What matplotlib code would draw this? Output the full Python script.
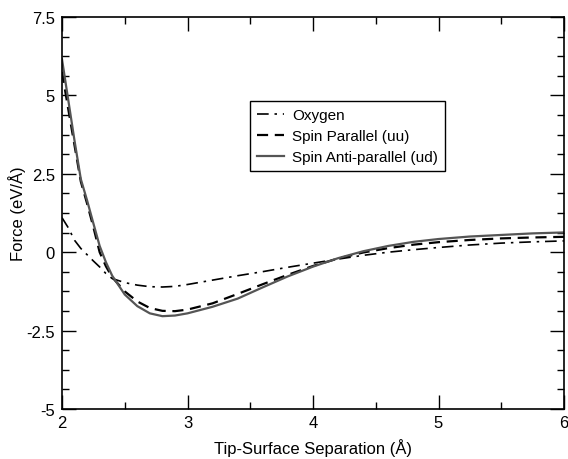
import matplotlib
matplotlib.use("Agg")
import matplotlib.pyplot as plt
from matplotlib.ticker import MultipleLocator

plt.rcParams['font.family'] = ['Liberation Sans', 'DejaVu Sans']

x = [2.0, 2.05, 2.1, 2.15, 2.2, 2.25, 2.3, 2.35, 2.4, 2.5, 2.6, 2.7, 2.8, 2.9,
     3.0, 3.2, 3.4, 3.6, 3.8, 4.0, 4.2, 4.4, 4.6, 4.8, 5.0, 5.25, 5.5, 5.75, 6.0]

oxygen = [1.1, 0.78, 0.38, 0.12, -0.08, -0.28, -0.47, -0.68, -0.84, -0.97, -1.05,
          -1.1, -1.11, -1.09, -1.03, -0.89, -0.75, -0.62, -0.48, -0.35, -0.22,
          -0.1, 0.0, 0.08, 0.15, 0.23, 0.29, 0.33, 0.36]

spin_uu = [5.75, 4.56, 3.4, 2.25, 1.55, 0.8, 0.0, -0.45, -0.8, -1.25, -1.57, -1.78,
           -1.87, -1.88, -1.83, -1.63, -1.33, -1.02, -0.72, -0.44, -0.2, -0.01, 0.13,
           0.24, 0.32, 0.39, 0.44, 0.47, 0.49]

spin_ud = [6.15, 4.85, 3.55, 2.33, 1.65, 0.92, 0.2, -0.32, -0.75, -1.35, -1.72,
           -1.95, -2.04, -2.02, -1.95, -1.74, -1.48, -1.12, -0.77, -0.46, -0.19,
           0.03, 0.2, 0.33, 0.42, 0.5, 0.55, 0.6, 0.63]

labels = ["Oxygen", "Spin Parallel (uu)", "Spin Anti-parallel (ud)"]
ytick_vals = [-5, -2.5, 0, 2.5, 5, 7.5]
ytick_labels = ["-5", "-2.5", "0", "2.5", "5", "7.5"]
xtick_vals = [2, 3, 4, 5, 6]

fig = plt.figure(figsize=(5.68, 4.60), dpi=100)
ax = fig.add_axes([62/568, 1 - 410/460, (564 - 62)/568, (410 - 18)/460])

ax.plot(x, oxygen, color='black', lw=1.2, dashes=[7, 3.5, 1.5, 3.5], label=labels[0])
ax.plot(x, spin_uu, color='black', lw=1.6, dashes=[5, 3], label=labels[1])
ax.plot(x, spin_ud, color='#555555', lw=1.6, ls='-', label=labels[2])

ax.set_xlim(2, 6)
ax.set_ylim(-5, 7.5)
ax.set_xticks(xtick_vals)
ax.set_xticklabels([str(v) for v in xtick_vals])
ax.set_yticks(ytick_vals)
ax.set_yticklabels(ytick_labels)
ax.xaxis.set_minor_locator(MultipleLocator(0.5))
ax.yaxis.set_minor_locator(MultipleLocator(0.625))
ax.tick_params(which='both', direction='in', top=True, right=True,
               labelsize=12, width=1.0, colors='black')
ax.tick_params(which='major', length=10, pad=4)
ax.tick_params(which='minor', length=5)
ax.tick_params(axis='y', which='major', pad=5)
for s in ax.spines.values():
    s.set_linewidth(1.2)

ax.set_xlabel("Tip-Surface Separation (Å)", fontsize=12, labelpad=6)
ax.set_ylabel("Force (eV/Å)", fontsize=12, labelpad=0)

leg = ax.legend(loc='upper left', bbox_to_anchor=(0.374, 0.785), fontsize=11,
                frameon=True, fancybox=False, edgecolor='black', framealpha=1,
                handlelength=1.8, handletextpad=0.5, borderpad=0.45,
                labelspacing=0.45, borderaxespad=0)
leg.get_frame().set_linewidth(1.0)

fig.savefig("out.png", dpi=100)
